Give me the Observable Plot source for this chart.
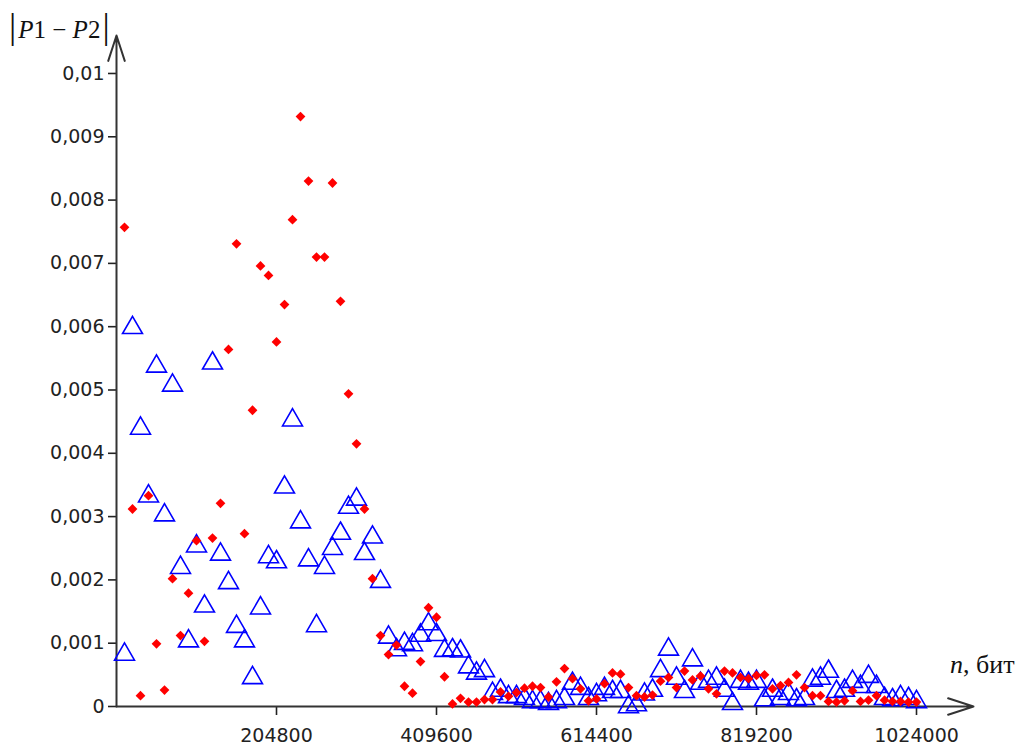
<!DOCTYPE html>
<html>
<head>
<meta charset="utf-8">
<script src="https://cdn.jsdelivr.net/npm/d3@7"></script>
<script src="https://cdn.jsdelivr.net/npm/@observablehq/plot@0.6"></script>
<style>
  html, body { margin: 0; padding: 0; background: #ffffff; }
  #chart svg { display: block; }
</style>
</head>
<body>
<div id="chart"></div>
<script>
// n, bits (sample positions)
const nBits = [10240, 20480, 30720, 40960, 51200, 61440, 71680, 81920, 92160, 102400,
  112640, 122880, 133120, 143360, 153600, 163840, 174080, 184320, 194560, 204800,
  215040, 225280, 235520, 245760, 256000, 266240, 276480, 286720, 296960, 307200,
  317440, 327680, 337920, 348160, 358400, 368640, 378880, 389120, 399360, 409600,
  419840, 430080, 440320, 450560, 460800, 471040, 481280, 491520, 501760, 512000,
  522240, 532480, 542720, 552960, 563200, 573440, 583680, 593920, 604160, 614400,
  624640, 634880, 645120, 655360, 665600, 675840, 686080, 696320, 706560, 716800,
  727040, 737280, 747520, 757760, 768000, 778240, 788480, 798720, 808960, 819200,
  829440, 839680, 849920, 860160, 870400, 880640, 890880, 901120, 911360, 921600,
  931840, 942080, 952320, 962560, 972800, 983040, 993280, 1003520, 1013760, 1024000];

// |P1 - P2|, red diamonds
const redSeries = [0.00757, 0.00312, 0.00017, 0.00333, 0.00099, 0.00026, 0.00202, 0.00112, 0.00179, 0.00262,
  0.00103, 0.00266, 0.00321, 0.00564, 0.00731, 0.00273, 0.00468, 0.00696, 0.00681, 0.00576,
  0.00635, 0.00769, 0.00932, 0.00830, 0.00710, 0.00710, 0.00827, 0.00640, 0.00494, 0.00415,
  0.00312, 0.00202, 0.00112, 0.00082, 0.00097, 0.00032, 0.00021, 0.00071, 0.00156, 0.00141,
  0.00047, 0.00004, 0.00013, 0.00007, 0.00007, 0.00011, 0.00011, 0.00023, 0.00016, 0.00022,
  0.00029, 0.00032, 0.00030, 0.00015, 0.00039, 0.00060, 0.00044, 0.00028, 0.00009, 0.00012,
  0.00036, 0.00053, 0.00051, 0.00030, 0.00017, 0.00015, 0.00018, 0.00040, 0.00046, 0.00030,
  0.00056, 0.00042, 0.00048, 0.00028, 0.00020, 0.00056, 0.00053, 0.00046, 0.00044, 0.00049,
  0.00050, 0.00028, 0.00033, 0.00038, 0.00050, 0.00030, 0.00017, 0.00017, 0.00008, 0.00007,
  0.00009, 0.00025, 0.00008, 0.00010, 0.00017, 0.00010, 0.00008, 0.00008, 0.00007, 0.00007];

// |P1 - P2|, blue triangles
const blueSeries = [0.00087, 0.00603, 0.00444, 0.00337, 0.00542, 0.00307, 0.00512, 0.00224, 0.00108, 0.00258,
  0.00163, 0.00547, 0.00245, 0.00200, 0.00131, 0.00108, 0.00050, 0.00160, 0.00241, 0.00233,
  0.00351, 0.00457, 0.00296, 0.00236, 0.00132, 0.00224, 0.00254, 0.00278, 0.00319, 0.00332,
  0.00246, 0.00272, 0.00202, 0.00114, 0.00094, 0.00104, 0.00102, 0.00117, 0.00135, 0.00118,
  0.00093, 0.00094, 0.00092, 0.00067, 0.00057, 0.00061, 0.00025, 0.00030, 0.00020, 0.00020,
  0.00017, 0.00012, 0.00012, 0.00009, 0.00012, 0.00017, 0.00041, 0.00033, 0.00017, 0.00023,
  0.00033, 0.00028, 0.00028, 0.00004, 0.00007, 0.00024, 0.00030, 0.00061, 0.00095, 0.00049,
  0.00028, 0.00078, 0.00041, 0.00044, 0.00049, 0.00030, 0.00009, 0.00044, 0.00041, 0.00044,
  0.00015, 0.00030, 0.00017, 0.00025, 0.00015, 0.00017, 0.00046, 0.00049, 0.00060, 0.00028,
  0.00030, 0.00044, 0.00036, 0.00052, 0.00036, 0.00017, 0.00015, 0.00020, 0.00017, 0.00012];

const xTicks = [204800, 409600, 614400, 819200, 1024000];
const yTicks = [0, 0.001, 0.002, 0.003, 0.004, 0.005, 0.006, 0.007, 0.008, 0.009, 0.01];
const xMax = 1096960;
const yMax = 0.0106;

const points = nBits.map((n, i) => ({n, red: redSeries[i], blue: blueSeries[i]}));
const axisLines = [
  {x1: 0, y1: 0, x2: xMax, y2: 0},
  {x1: 0, y1: 0, x2: 0, y2: yMax}
];

const yFormat = d => d === 0 ? "0" : String(+d.toFixed(3)).replace(".", ",");

const svg = Plot.plot({
  width: 1023,
  height: 744,
  marginLeft: 116,
  marginRight: 50,
  marginTop: 35,
  marginBottom: 38,
  style: {fontFamily: "DejaVu Sans", background: "#ffffff", overflow: "visible"},
  x: {domain: [0, xMax]},
  y: {domain: [0, yMax]},
  marks: [
    Plot.axisX({ticks: xTicks, tickFormat: d3.format("d"), tickSize: 9, tickPadding: 13,
      fontSize: 19, color: "#222", strokeWidth: 1.6, label: null}),
    Plot.axisY({ticks: yTicks, tickFormat: yFormat, tickSize: 8, tickPadding: 4,
      fontSize: 19, color: "#222", strokeWidth: 1.6, label: null}),
    Plot.arrow(axisLines, {x1: "x1", y1: "y1", x2: "x2", y2: "y2",
      stroke: "#333", strokeWidth: 2, headLength: 20, headAngle: 36}),
    Plot.dot(points, {x: "n", y: "blue", symbol: "triangle", r: 7.4, dy: 3,
      stroke: "#0000ff", strokeWidth: 1.6, fill: "none"}),
    Plot.dot(points, {x: "n", y: "red", symbol: "diamond2", r: 4.4, fill: "#ff0000", stroke: "none"})
  ]
});

const s = d3.select(svg);
// y label |P1 − P2|
const yl = s.append("text")
  .attr("x", 9).attr("y", 38)
  .attr("text-anchor", "start")
  .attr("font-family", "Liberation Serif, Times New Roman, serif")
  .attr("font-size", 25).attr("fill", "#111");
yl.append("tspan").attr("font-size", 36).text("|");
yl.append("tspan").attr("font-style", "italic").attr("dx", 2).text("P");
yl.append("tspan").text("1 − ");
yl.append("tspan").attr("font-style", "italic").text("P");
yl.append("tspan").text("2");
yl.append("tspan").attr("font-size", 36).attr("dx", 2).text("|");

// x label n, бит
const xl = s.append("text")
  .attr("x", 950).attr("y", 673)
  .attr("text-anchor", "start")
  .attr("font-family", "Liberation Serif, Times New Roman, serif")
  .attr("font-size", 26).attr("fill", "#111");
xl.append("tspan").attr("font-style", "italic").text("n");
xl.append("tspan").text(", бит");

document.getElementById("chart").appendChild(svg);
</script>
</body>
</html>
